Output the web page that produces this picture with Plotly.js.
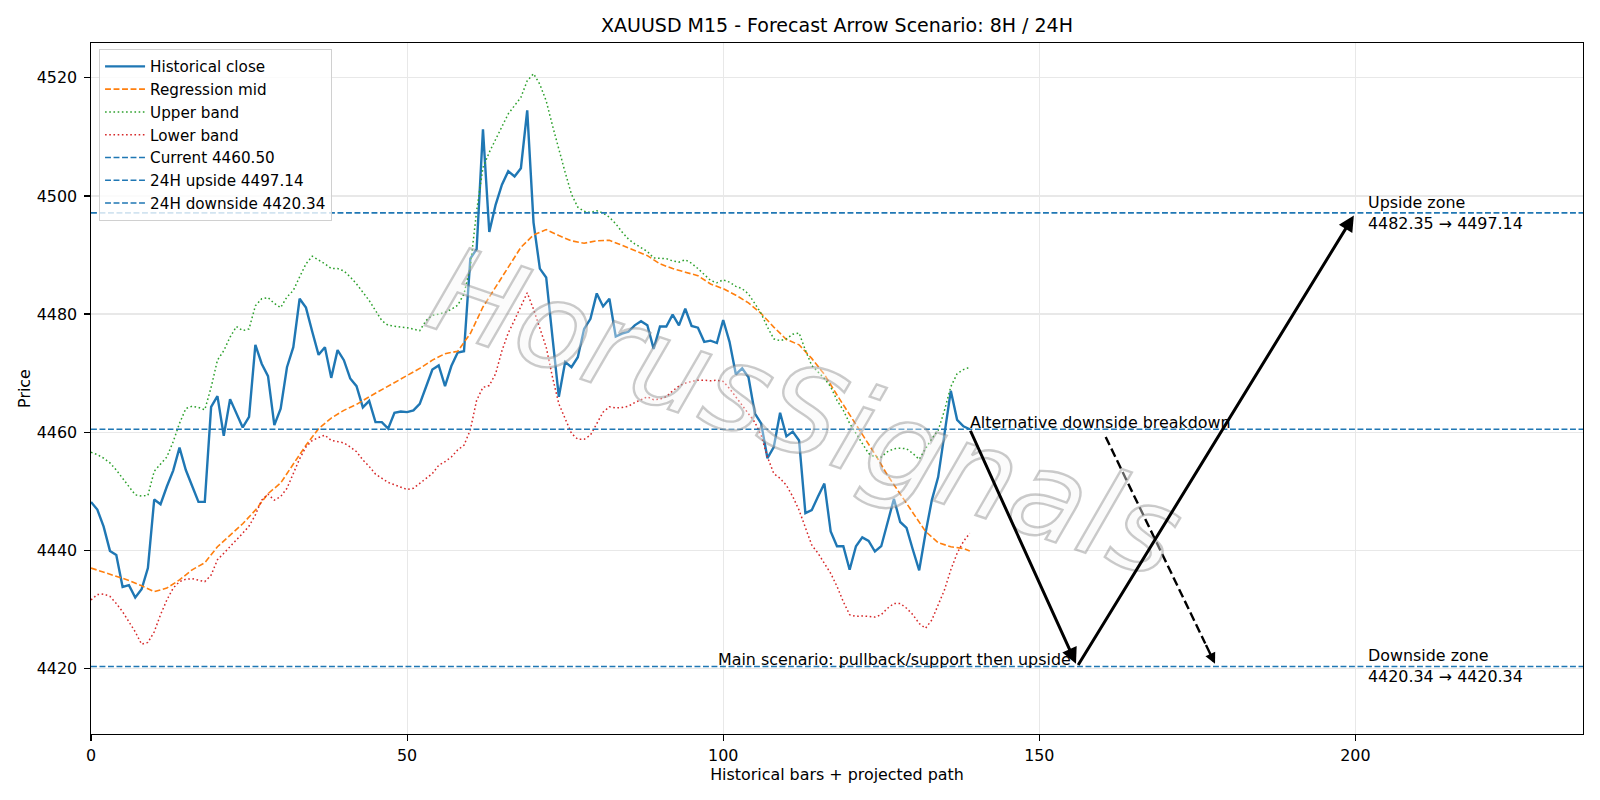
<!DOCTYPE html>
<html>
<head>
<meta charset="utf-8">
<script src="https://cdn.plot.ly/plotly-3.0.1.min.js"></script>
<style>
  html, body { margin: 0; padding: 0; background: #ffffff; }
  #chart { width: 1600px; height: 800px; }
</style>
</head>
<body>
<div id="chart"></div>
<script>
// XAUUSD M15 closes (last 140 bars) with the rolling regression channel
const histClose = [
  4448.2, 4446.9, 4444.0, 4439.9, 4439.2, 4433.8, 4434.1, 4432.0, 4433.4, 4437.0,
  4448.6, 4447.8, 4450.8, 4453.5, 4457.4, 4453.6, 4450.9, 4448.2, 4448.2, 4464.3,
  4466.1, 4459.4, 4465.6, 4463.2, 4460.8, 4462.6, 4474.8, 4471.6, 4469.5, 4461.2,
  4464.0, 4471.0, 4474.4, 4482.6, 4481.1, 4477.0, 4473.1, 4474.4, 4469.2, 4473.9,
  4472.2, 4469.1, 4467.8, 4464.2, 4465.3, 4461.7, 4461.7, 4460.6, 4463.3, 4463.5,
  4463.4, 4463.7, 4464.8, 4467.7, 4470.6, 4471.3, 4467.8, 4471.2, 4473.5, 4473.7,
  4489.4, 4491.0, 4511.3, 4493.9, 4498.5, 4501.9, 4504.2, 4503.3, 4504.7, 4514.5,
  4495.5, 4487.7, 4486.2, 4476.0, 4466.0, 4471.9, 4471.0, 4472.7, 4477.5, 4479.2,
  4483.5, 4481.3, 4482.6, 4476.2, 4476.7, 4477.0, 4478.1, 4478.8, 4478.1, 4474.1,
  4477.9, 4477.9, 4479.9, 4478.1, 4480.9, 4478.0, 4477.7, 4475.3, 4475.5, 4475.1,
  4479.0, 4475.3, 4469.8, 4470.8, 4469.3, 4463.2, 4461.5, 4455.6, 4457.5, 4463.3,
  4459.3, 4460.1, 4458.6, 4446.3, 4446.8, 4449.1, 4451.3, 4443.2, 4440.7, 4440.7,
  4436.7, 4440.7, 4442.2, 4441.6, 4439.8, 4440.7, 4444.8, 4448.7, 4444.8, 4443.8,
  4440.1, 4436.6, 4442.9, 4448.5, 4452.4, 4459.5, 4467.0, 4462.1, 4461.0, 4460.5
];

const upperBand = [
  4456.6, 4456.2, 4455.6, 4454.8, 4453.6, 4452.3, 4450.8, 4449.4, 4449.2, 4449.3,
  4453.4, 4454.6, 4455.8, 4458.4, 4461.5, 4464.0, 4464.4, 4464.2, 4463.8, 4467.6,
  4472.2, 4473.8, 4476.1, 4477.9, 4477.2, 4477.5, 4481.4, 4482.6, 4482.8, 4481.8,
  4481.1, 4482.9, 4484.0, 4486.3, 4488.5, 4489.8, 4489.2, 4488.5, 4487.7, 4487.7,
  4487.3, 4486.3, 4485.1, 4483.7, 4482.3, 4480.6, 4478.9, 4478.1, 4477.9, 4477.8,
  4477.7, 4477.5, 4477.2, 4478.9, 4479.8, 4480.0, 4480.3, 4480.8, 4481.5, 4483.4,
  4488.0, 4497.5, 4504.8, 4507.4, 4509.6, 4511.7, 4513.9, 4515.3, 4516.7, 4519.5,
  4520.7, 4518.9, 4516.1, 4511.9, 4507.7, 4504.0, 4500.3, 4498.1, 4497.4, 4497.2,
  4497.5, 4497.1, 4496.4, 4495.3, 4493.9, 4492.7, 4491.9, 4491.3, 4490.6, 4489.5,
  4489.4, 4489.4, 4489.0, 4488.8, 4489.2, 4488.6, 4487.7, 4486.7, 4485.7, 4485.3,
  4485.8, 4485.4, 4484.7, 4484.3, 4483.4, 4481.8, 4480.1, 4477.8, 4475.8, 4475.5,
  4475.8, 4476.6, 4476.8, 4473.9, 4471.3, 4470.2, 4469.1, 4467.7, 4465.4, 4463.7,
  4461.5, 4459.8, 4458.1, 4456.4, 4455.8, 4455.8, 4456.7, 4457.2, 4457.3, 4457.2,
  4456.4, 4455.4, 4457.2, 4458.9, 4460.3, 4463.7, 4467.7, 4469.9, 4470.6, 4471.0
];

const lowerBand = [
  4431.6, 4432.5, 4432.6, 4432.2, 4431.0, 4429.6, 4427.9, 4426.2, 4424.1, 4424.4,
  4426.2, 4429.1, 4431.6, 4433.6, 4434.7, 4435.1, 4435.2, 4434.9, 4434.7, 4435.8,
  4438.4, 4439.5, 4440.6, 4441.8, 4442.9, 4444.1, 4446.0, 4448.5, 4449.5, 4448.5,
  4449.1, 4450.5, 4453.0, 4455.5, 4457.5, 4458.6, 4459.1, 4459.5, 4458.6, 4458.4,
  4458.2, 4457.5, 4456.7, 4455.3, 4454.2, 4452.9, 4452.2, 4451.5, 4451.1, 4450.7,
  4450.3, 4450.5, 4451.3, 4452.2, 4453.0, 4454.4, 4455.0, 4455.8, 4457.0, 4457.8,
  4460.4, 4465.4, 4467.6, 4467.9, 4469.9, 4473.8, 4476.8, 4479.0, 4481.2, 4483.6,
  4480.8, 4477.5, 4474.4, 4469.3, 4464.8, 4462.3, 4459.8, 4458.8, 4458.8, 4459.5,
  4461.4, 4463.4, 4464.3, 4464.1, 4464.2, 4464.4, 4465.0, 4465.5, 4466.0, 4465.5,
  4465.6, 4466.0, 4467.0, 4467.8, 4468.3, 4468.6, 4468.8, 4468.8, 4468.7, 4468.8,
  4468.6, 4467.4, 4466.0, 4464.6, 4463.2, 4461.7, 4459.5, 4455.8, 4453.0, 4452.2,
  4451.0, 4449.1, 4446.8, 4444.0, 4440.9, 4439.5, 4437.8, 4436.1, 4433.9, 4431.3,
  4429.1, 4428.8, 4428.9, 4428.8, 4428.7, 4429.1, 4430.2, 4431.0, 4431.0, 4430.2,
  4429.1, 4427.6, 4426.8, 4428.2, 4430.8, 4433.3, 4436.7, 4439.5, 4441.5, 4442.9
];

// regression midline, sampled every second bar
const midBars = [
  0, 2, 4, 6, 8, 10, 12, 14, 16, 18, 20, 22, 24, 26, 28, 30, 32, 34, 36, 38,
  40, 42, 44, 46, 48, 50, 52, 54, 56, 58, 60, 62, 64, 66, 68, 70, 72, 74, 76, 78,
  80, 82, 84, 86, 88, 90, 92, 94, 96, 98, 100, 102, 104, 106, 108, 110, 112, 114, 116, 118,
  120, 122, 124, 126, 128, 130, 132, 134, 136, 138, 139
];
const regressionMid = [
  4437.0, 4436.3, 4435.6, 4434.9, 4434.0, 4433.0, 4433.6, 4435.0, 4436.7, 4437.9,
  4440.6, 4442.6, 4444.5, 4446.8, 4449.6, 4451.4, 4454.7, 4457.8, 4460.6, 4462.4,
  4463.7, 4464.7, 4466.0, 4467.2, 4468.5, 4469.6, 4470.8, 4472.2, 4473.3, 4473.7,
  4476.7, 4481.2, 4484.5, 4488.0, 4491.3, 4493.4, 4494.3, 4493.3, 4492.4, 4492.0,
  4492.4, 4492.5, 4491.6, 4490.8, 4489.9, 4488.5, 4487.7, 4487.1, 4486.5, 4485.1,
  4484.3, 4483.2, 4481.9, 4480.1, 4477.8, 4475.7, 4474.8, 4472.5, 4469.8, 4466.3,
  4463.0, 4459.8, 4456.3, 4452.7, 4449.6, 4446.3, 4443.2, 4441.3, 4440.6, 4440.3,
  4439.9
];

// key levels
const currentPrice = 4460.50;
const upside24h = 4497.14;
const downside24h = 4420.34;
const upsideZone = [4482.35, 4497.14];
const downsideZone = [4420.34, 4420.34];

// projected paths (bar index, price)
const mainPathBars = [139, 156, 200];
const mainPathPrices = [currentPrice, downside24h, upside24h];
const altPathBars = [160.5, 178];
const altPathPrices = [4459.2, downside24h];
const zoneLabelBar = 202;

const xSpan = [0, 236];
const ySpan = [4408.9, 4525.9];
const xTicks = [0, 50, 100, 150, 200];
const yTicks = [4420, 4440, 4460, 4480, 4500, 4520];

const bars = histClose.map((_, i) => i);
const FONT = 'DejaVu Sans, Verdana, sans-serif';
const BLUE = '#1f77b4', ORANGE = '#ff7f0e', GREEN = '#2ca02c', RED = '#d62728';
const FS = 15.9;           // 10 pt text
const DASH = '5.9px,2.6px';
const DOT = '1.6px,2.6px';

function fmt(v) { return v.toFixed(2); }

const traces = [
  { x: bars, y: histClose, name: 'Historical close', mode: 'lines',
    line: { color: BLUE, width: 2.4 } },
  { x: midBars, y: regressionMid, name: 'Regression mid', mode: 'lines',
    line: { color: ORANGE, width: 1.6, dash: DASH } },
  { x: bars, y: upperBand, name: 'Upper band', mode: 'lines',
    line: { color: GREEN, width: 1.5, dash: DOT } },
  { x: bars, y: lowerBand, name: 'Lower band', mode: 'lines',
    line: { color: RED, width: 1.5, dash: DOT } },
  { x: xSpan, y: [currentPrice, currentPrice], name: 'Current ' + fmt(currentPrice), mode: 'lines',
    line: { color: BLUE, width: 1.6, dash: DASH } },
  { x: xSpan, y: [upside24h, upside24h], name: '24H upside ' + fmt(upside24h), mode: 'lines',
    line: { color: BLUE, width: 1.6, dash: DASH } },
  { x: xSpan, y: [downside24h, downside24h], name: '24H downside ' + fmt(downside24h), mode: 'lines',
    line: { color: BLUE, width: 1.6, dash: DASH } }
];
traces.forEach(t => { t.hoverinfo = 'skip'; });

const textFont = { family: FONT, size: FS, color: '#000000' };

// arrow head for the dashed alternative path: a short solid piece at its end
const altHeadFrac = 0.1;
const altHeadTail = [
  altPathBars[1] - altHeadFrac * (altPathBars[1] - altPathBars[0]),
  altPathPrices[1] - altHeadFrac * (altPathPrices[1] - altPathPrices[0])
];

const annotations = [
  // watermark
  { text: 'HorusSignals', x: 113, y: 4463.3, xref: 'x', yref: 'y', showarrow: false,
    textangle: 19,
    font: { family: FONT, size: 120, style: 'italic', color: 'rgba(245,245,245,0.4)' } },
  // main path: pullback to support
  { x: mainPathBars[1], y: mainPathPrices[1], ax: mainPathBars[0], ay: mainPathPrices[0],
    xref: 'x', yref: 'y', axref: 'x', ayref: 'y', showarrow: true, text: '',
    arrowcolor: '#000000', arrowwidth: 3, arrowhead: 2, arrowsize: 1.05, standoff: 3 },
  // main path: rebound to the upside target
  { x: mainPathBars[2], y: mainPathPrices[2], ax: mainPathBars[1], ay: mainPathPrices[1],
    xref: 'x', yref: 'y', axref: 'x', ayref: 'y', showarrow: true, text: '',
    arrowcolor: '#000000', arrowwidth: 3, arrowhead: 2, arrowsize: 1.05, standoff: 3 },
  // alternative path head
  { x: altPathBars[1], y: altPathPrices[1], ax: altHeadTail[0], ay: altHeadTail[1],
    xref: 'x', yref: 'y', axref: 'x', ayref: 'y', showarrow: true, text: '',
    arrowcolor: '#000000', arrowwidth: 2.4, arrowhead: 2, arrowsize: 0.9, standoff: 3 },
  { text: 'Alternative downside breakdown', x: mainPathBars[0], y: currentPrice,
    xref: 'x', yref: 'y', showarrow: false, xanchor: 'left', yanchor: 'bottom',
    yshift: -5, xshift: -2, font: textFont },
  { text: 'Main scenario: pullback/support then upside', x: mainPathBars[1], y: downside24h,
    xref: 'x', yref: 'y', showarrow: false, xanchor: 'right', yanchor: 'bottom',
    yshift: -5, xshift: -4, font: textFont },
  { text: 'Upside zone<br>' + fmt(upsideZone[0]) + ' \u2192 ' + fmt(upsideZone[1]),
    x: zoneLabelBar, y: upside24h, xref: 'x', yref: 'y', showarrow: false,
    xanchor: 'left', yanchor: 'middle', align: 'left', xshift: -2, font: textFont },
  { text: 'Downside zone<br>' + fmt(downsideZone[0]) + ' \u2192 ' + fmt(downsideZone[1]),
    x: zoneLabelBar, y: downside24h, xref: 'x', yref: 'y', showarrow: false,
    xanchor: 'left', yanchor: 'middle', align: 'left', xshift: -2, font: textFont }
];

const shapes = [
  { type: 'line', xref: 'x', yref: 'y',
    x0: altPathBars[0], y0: altPathPrices[0], x1: altHeadTail[0], y1: altHeadTail[1],
    line: { color: '#000000', width: 2.4, dash: '9px,4px' } }
];

const axisCommon = {
  showline: true, mirror: true, linecolor: '#000000', linewidth: 1.2,
  ticks: 'outside', ticklen: 5.5, tickwidth: 1.2, tickcolor: '#000000',
  showgrid: true, gridcolor: '#e8e8e8', gridwidth: 1.2, zeroline: false,
  tickfont: { family: FONT, size: FS, color: '#000000' }
};

const layout = {
  width: 1600, height: 800,
  margin: { l: 91, r: 17, t: 43, b: 66, pad: 0 },
  paper_bgcolor: '#ffffff', plot_bgcolor: '#ffffff',
  title: { text: 'XAUUSD M15 - Forecast Arrow Scenario: 8H / 24H',
    font: { family: FONT, size: 19, color: '#000000' },
    x: 0.5, xref: 'paper', y: 1 - 25.5 / 800, yref: 'container', yanchor: 'middle' },
  xaxis: Object.assign({}, axisCommon, {
    range: xSpan, tickvals: xTicks, ticktext: xTicks.map(String), ticklabelstandoff: 1,
    title: { text: 'Historical bars + projected path', standoff: 2,
      font: { family: FONT, size: FS, color: '#000000' } }
  }),
  yaxis: Object.assign({}, axisCommon, {
    range: ySpan, tickvals: yTicks, ticktext: yTicks.map(String), ticklabelstandoff: 4,
    title: { text: 'Price', standoff: 2,
      font: { family: FONT, size: FS, color: '#000000' } }
  }),
  showlegend: true,
  legend: {
    x: 0.0054, y: 0.9913, xanchor: 'left', yanchor: 'top',
    bgcolor: 'rgba(255,255,255,0.8)', bordercolor: '#d0d0d0', borderwidth: 1,
    font: { family: FONT, size: 15.2, color: '#000000' },
    traceorder: 'normal', itemwidth: 40
  },
  annotations: annotations,
  shapes: shapes
};

Plotly.newPlot('chart', traces, layout, { displayModeBar: false, staticPlot: true }).then(gd => {
  // outlined lettering for the watermark
  const styleWatermark = () => {
    gd.querySelectorAll('.annotation').forEach(node => {
      const t = node.querySelector('text');
      if (t && t.textContent === 'HorusSignals') {
        t.style.stroke = 'rgba(125,125,125,0.4)';
        t.style.strokeWidth = '2.4px';
      }
    });
  };
  styleWatermark();
  gd.on('plotly_afterplot', styleWatermark);
});
</script>
</body>
</html>
